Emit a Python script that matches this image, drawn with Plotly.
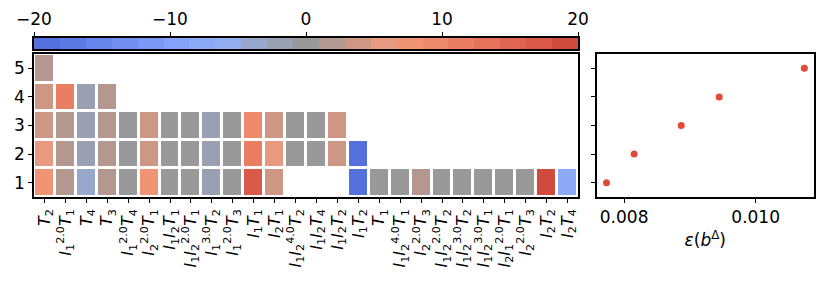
import numpy as np
import plotly.graph_objects as go

# ---- data ----
col_labels = [
    "<i>T</i><sub>2</sub>",
    "<i>I</i><sub>1</sub><sup>2.0</sup><i>T</i><sub>1</sub>",
    "<i>T</i><sub>4</sub>",
    "<i>T</i><sub>3</sub>",
    "<i>I</i><sub>1</sub><sup>2.0</sup><i>T</i><sub>4</sub>",
    "<i>I</i><sub>2</sub><sup>2.0</sup><i>T</i><sub>1</sub>",
    "<i>I</i><sub>1</sub><i>I</i><sub>2</sub><i>T</i><sub>1</sub>",
    "<i>I</i><sub>1</sub><i>I</i><sub>2</sub><sup>2.0</sup><i>T</i><sub>1</sub>",
    "<i>I</i><sub>1</sub><sup>3.0</sup><i>T</i><sub>2</sub>",
    "<i>I</i><sub>1</sub><sup>2.0</sup><i>T</i><sub>3</sub>",
    "<i>I</i><sub>1</sub><i>T</i><sub>1</sub>",
    "<i>I</i><sub>2</sub><i>T</i><sub>1</sub>",
    "<i>I</i><sub>1</sub><i>I</i><sub>2</sub><sup>4.0</sup><i>T</i><sub>2</sub>",
    "<i>I</i><sub>1</sub><i>I</i><sub>2</sub><i>T</i><sub>4</sub>",
    "<i>I</i><sub>1</sub><i>I</i><sub>2</sub><i>T</i><sub>2</sub>",
    "<i>I</i><sub>1</sub><i>T</i><sub>2</sub>",
    "<i>T</i><sub>1</sub>",
    "<i>I</i><sub>1</sub><i>I</i><sub>2</sub><sup>4.0</sup><i>T</i><sub>1</sub>",
    "<i>I</i><sub>2</sub><sup>2.0</sup><i>T</i><sub>3</sub>",
    "<i>I</i><sub>1</sub><i>I</i><sub>2</sub><sup>2.0</sup><i>T</i><sub>2</sub>",
    "<i>I</i><sub>1</sub><i>I</i><sub>2</sub><sup>3.0</sup><i>T</i><sub>2</sub>",
    "<i>I</i><sub>1</sub><i>I</i><sub>2</sub><sup>3.0</sup><i>T</i><sub>1</sub>",
    "<i>I</i><sub>2</sub><i>I</i><sub>1</sub><sup>2.0</sup><i>T</i><sub>1</sub>",
    "<i>I</i><sub>2</sub><sup>2.0</sup><i>T</i><sub>3</sub>",
    "<i>I</i><sub>2</sub><i>T</i><sub>2</sub>",
    "<i>I</i><sub>2</sub><i>T</i><sub>4</sub>",
]
N = None
row1 = [8, 2, -4, 2, 0, 8, 0, 0, -2, 0, 17, 4, N, N, N, -19, 0, 0, 2, 0, 0, 0, 0, 0, 19, -7]
row2 = [6, 2, -2, 2, 0, 4, 0, 0, -2, 0, 11, 6, 0, 0, 4, -19] + [N] * 10
row3 = [4, 2, -2, 2, 0, 4, 0, 0, -2, 0, 9, 4, 0, 0, 4] + [N] * 11
row4 = [4, 11, -2, 2] + [N] * 22
row5 = [2] + [N] * 25
row_levels = [1, 2, 3, 4, 5]

eps_values = [0.007732, 0.008152, 0.008868, 0.009446, 0.010740]
eps_levels = [1, 2, 3, 4, 5]

cbar_ticks = [-20, -10, 0, 10, 20]
cbar_ticktext = ["\u221220", "\u221210", "0", "10", "20"]

seg_colors = [
    "#5470dc", "#5d7ae4", "#6784eb", "#718ef0", "#7b98f5", "#85a1f8", "#8caaf8",
    "#93adee", "#98a8cc", "#98a0b2", "#999999", "#b4978f", "#cd9685", "#e89a80",
    "#f09474", "#ee8a6c", "#e97e63", "#e5725b", "#df6552", "#d95a49", "#d14a3e",
]
zmin, zmax = -20, 20

# ---- styling ----
W, H = 830, 284
FONT = "DejaVu Sans"
nseg = len(seg_colors)
colorscale = []
for i, c in enumerate(seg_colors):
    colorscale.append([i / nseg, c])
    colorscale.append([(i + 1) / nseg, c])


def px_x(a, b):
    return [a / W, b / W]


def px_y(top, bot):
    return [(H - bot) / H, (H - top) / H]


main_x = px_x(34, 578)
right_x = px_x(596.5, 814)
plot_y = px_y(54, 197)
cbar_y = px_y(38, 49)

fig = go.Figure()

fig.add_trace(go.Heatmap(
    z=[row1, row2, row3, row4, row5],
    x=list(range(len(col_labels))),
    y=row_levels,
    colorscale=colorscale, zmin=zmin, zmax=zmax,
    xgap=3, ygap=3, showscale=False,
    xaxis="x", yaxis="y", hoverongaps=False,
))

edges = np.linspace(zmin, zmax, nseg + 1)
centers = (edges[:-1] + edges[1:]) / 2
fig.add_trace(go.Heatmap(
    z=[centers.tolist()], x=edges.tolist(), y=[0, 1],
    colorscale=colorscale, zmin=zmin, zmax=zmax, showscale=False,
    xaxis="x3", yaxis="y3",
))

fig.add_trace(go.Scatter(
    x=eps_values, y=eps_levels, mode="markers",
    marker=dict(color="#e24a33", size=7),
    xaxis="x2", yaxis="y2", showlegend=False,
))

axis_common = dict(showline=True, linecolor="black", linewidth=1.5, mirror=True,
                   ticks="outside", ticklen=4, tickwidth=1.2, tickcolor="black",
                   showgrid=False, zeroline=False, automargin=False,
                   tickfont=dict(family=FONT, size=17, color="black"))

fig.update_layout(
    width=W, height=H,
    margin=dict(l=0, r=0, t=0, b=0, autoexpand=False),
    paper_bgcolor="white", plot_bgcolor="white",
    showlegend=False,
    xaxis=dict(domain=main_x, range=[-0.5, len(col_labels) - 0.5], anchor="y",
               tickmode="array", tickvals=list(range(len(col_labels))),
               ticktext=col_labels, tickangle=-90, **axis_common),
    yaxis=dict(domain=plot_y, range=[0.5, 5.5], anchor="x",
               tickmode="array", tickvals=row_levels, **axis_common),
    xaxis2=dict(domain=right_x, range=[0.00758, 0.010887], anchor="y2",
                tickmode="array", tickvals=[0.008, 0.010], ticktext=["0.008", "0.010"],
                title=dict(text="<i>\u03b5</i>(<i>b</i><sup>\u0394</sup>)",
                           font=dict(family=FONT, size=17, color="black"), standoff=8),
                **axis_common),
    yaxis2=dict(domain=plot_y, range=[0.5, 5.5], anchor="x2",
                tickmode="array", tickvals=eps_levels, showticklabels=False,
                **axis_common),
    xaxis3=dict(domain=main_x, range=[zmin, zmax], anchor="y3", side="top",
                tickmode="array", tickvals=cbar_ticks, ticktext=cbar_ticktext,
                **axis_common),
    yaxis3=dict(domain=cbar_y, range=[0, 1], anchor="x3", showticklabels=False,
                showline=True, linecolor="black", linewidth=1.5, mirror=True,
                ticks="", showgrid=False, zeroline=False, automargin=False),
)
fig.layout.xaxis.tickfont.size = 16

fig.write_html("out.html", config={"displayModeBar": False},
               post_script="document.body.style.margin='0';document.body.style.overflow='hidden';")
